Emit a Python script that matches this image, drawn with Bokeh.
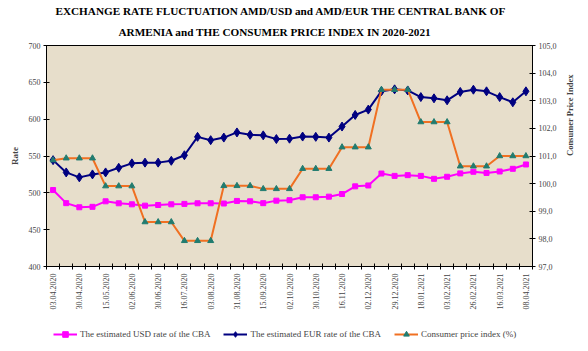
import math
from bokeh.plotting import figure
from bokeh.layouts import column
from bokeh.models import Range1d, LinearAxis, FixedTicker, Legend, LegendItem, Title
from bokeh.embed import file_html
from bokeh.resources import INLINE

# ---- data ----
date_labels = ["03.04.2020", "30.04.2020", "15.05.2020", "02.06.2020", "30.06.2020",
               "16.07.2020", "03.08.2020", "31.08.2020", "15.09.2020", "02.10.2020",
               "30.10.2020", "16.11.2020", "02.12.2020", "29.12.2020", "18.01.2021",
               "03.02.2021", "26.02.2021", "16.03.2021", "08.04.2021"]

usd = [503.8, 486.0, 480.4, 481.0, 488.5, 485.8, 484.4, 482.6, 483.5, 484.4,
       485.0, 485.8, 485.8, 485.5, 489.0, 488.5, 486.0, 489.4, 490.0, 494.0,
       494.0, 494.8, 498.4, 508.8, 510.0, 526.2, 523.0, 524.0, 523.0, 519.0,
       521.8, 526.4, 528.6, 527.0, 529.0, 532.6, 538.5]

eur = [544.4, 527.7, 521.0, 525.0, 527.7, 534.0, 540.0, 541.0, 541.0, 543.5,
       551.0, 576.0, 571.5, 575.0, 582.0, 578.7, 578.0, 573.0, 573.5, 576.4,
       576.0, 575.0, 590.0, 605.7, 613.0, 638.0, 640.5, 639.0, 630.0, 628.3,
       625.6, 637.0, 640.0, 637.8, 630.0, 622.9, 637.8]

cpi = [100.85, 100.92, 100.92, 100.92, 99.91, 99.91, 99.91, 98.61, 98.61, 98.61,
       97.93, 97.93, 97.93, 99.92, 99.92, 99.92, 99.81, 99.81, 99.81, 100.54,
       100.54, 100.54, 101.32, 101.32, 101.32, 103.40, 103.40, 103.40, 102.23, 102.23,
       102.23, 100.63, 100.63, 100.63, 101.00, 101.00, 101.00]

rate_ticks = [400, 450, 500, 550, 600, 650, 700]
cpi_ticks = [97, 98, 99, 100, 101, 102, 103, 104, 105]

title_lines = ["EXCHANGE RATE FLUCTUATION AMD/USD and AMD/EUR THE CENTRAL BANK OF",
               "ARMENIA and THE  CONSUMER PRICE INDEX IN 2020-2021"]

series_names = ["The estimated USD rate of the CBA",
                "The estimated EUR rate of the CBA",
                "Consumer price index (%)"]

x = list(range(len(usd)))
n = len(usd)

SERIF = "Liberation Serif"

p = figure(width=588, height=320, output_backend="svg", toolbar_location=None,
           x_range=Range1d(-0.5, n - 0.5), y_range=Range1d(400, 700),
           min_border_left=46, min_border_right=56, min_border_top=45,
           min_border_bottom=54)
p.extra_y_ranges = {"cpi": Range1d(97, 105)}

p.background_fill_color = "#E7DECB"
p.border_fill_color = "white"
p.outline_line_color = "black"
p.outline_line_width = 1
p.xgrid.grid_line_color = None
p.ygrid.grid_line_color = None

# title: two lines; the added Title sits nearest the frame
p.title.text = title_lines[0]
p.title.align = "left"
p.title.offset = 9
p.title.text_font = SERIF
p.title.text_font_size = "11.2px"
p.title.text_font_style = "bold"
p.title.text_color = "black"
p.title.standoff = 0
try:
    p.title.standoff = -3
except Exception:
    pass
t2 = Title(text=title_lines[1], align="left", offset=72, text_font=SERIF,
           text_font_size="11.2px", text_font_style="bold", text_color="black",
           standoff=16)
p.add_layout(t2, "above")

# x axis
xa = p.xaxis[0]
xa.ticker = FixedTicker(ticks=list(range(0, n, 2)),
                        minor_ticks=[i - 0.5 for i in range(n + 1)])
xa.major_label_overrides = {i * 2: lab for i, lab in enumerate(date_labels)}
xa.major_label_orientation = math.pi / 2
xa.major_tick_in = 0
xa.major_tick_out = 0
xa.minor_tick_in = 3
xa.minor_tick_out = 3
xa.major_label_text_font = SERIF
xa.major_label_text_font_size = "8px"
xa.major_label_standoff = 4
xa.axis_line_color = "black"
xa.minor_tick_line_color = "black"

# left axis
ya = p.yaxis[0]
ya.ticker = FixedTicker(ticks=rate_ticks)
ya.minor_tick_line_color = None
ya.major_tick_in = 3
ya.major_tick_out = 3
ya.major_label_text_font = SERIF
ya.major_label_text_font_size = "8px"
ya.major_label_standoff = 3
ya.axis_label = "Rate"
ya.axis_label_text_font = SERIF
ya.axis_label_text_font_size = "9px"
ya.axis_label_text_font_style = "bold"
ya.axis_label_standoff = 6

# right axis
ra = LinearAxis(y_range_name="cpi", ticker=FixedTicker(ticks=cpi_ticks))
ra.major_label_overrides = {t: f"{t},0" for t in cpi_ticks}
ra.minor_tick_line_color = None
ra.major_tick_in = 3
ra.major_tick_out = 3
ra.major_label_text_font = SERIF
ra.major_label_text_font_size = "8px"
ra.major_label_standoff = 3
ra.axis_label = "Consumer Price Index"
ra.axis_label_text_font = SERIF
ra.axis_label_text_font_size = "8.5px"
ra.axis_label_text_font_style = "bold"
ra.axis_label_standoff = 10
if "axis_label_orientation" in ra.properties():
    ra.axis_label_orientation = math.pi / 2
p.add_layout(ra, "right")

# series
USD_C = "#FF00FF"
EUR_C = "#000080"
CPI_C = "#F07022"
TRI_C = "#217C70"

p.line(x, usd, line_color=USD_C, line_width=2)
p.scatter(x, usd, marker="square", size=5, fill_color=USD_C, line_color=USD_C)

p.line(x, eur, line_color=EUR_C, line_width=2)
p.scatter(x, eur, marker="diamond", size=9, fill_color=EUR_C, line_color=EUR_C)

p.line(x, cpi, line_color=CPI_C, line_width=2, y_range_name="cpi")
p.scatter(x, cpi, marker="triangle", size=6, fill_color=TRI_C, line_color=TRI_C,
          y_range_name="cpi")

# legend strip below the chart (its renderers sit outside the strip's ranges)
q = figure(width=588, height=31, output_backend="svg", toolbar_location=None,
           x_range=Range1d(0, 1), y_range=Range1d(0, 1),
           x_axis_location=None, y_axis_location=None,
           min_border=0, outline_line_color=None)
q.xgrid.grid_line_color = None
q.ygrid.grid_line_color = None
q.background_fill_color = "white"
q.border_fill_color = "white"

off = [5]
lu = q.line(off, off, line_color=USD_C, line_width=2)
mu = q.scatter(off, off, marker="square", size=5, fill_color=USD_C, line_color=USD_C)
le = q.line(off, off, line_color=EUR_C, line_width=2)
me = q.scatter(off, off, marker="diamond", size=9, fill_color=EUR_C, line_color=EUR_C)
lc = q.line(off, off, line_color=CPI_C, line_width=2)
mc = q.scatter(off, off, marker="triangle", size=6, fill_color=TRI_C, line_color=TRI_C)

legend = Legend(items=[
    LegendItem(label=series_names[0], renderers=[lu, mu]),
    LegendItem(label=series_names[1], renderers=[le, me]),
    LegendItem(label=series_names[2], renderers=[lc, mc]),
], orientation="horizontal", location=(7, 10))
legend.label_text_font = SERIF
legend.label_text_font_size = "9px"
legend.glyph_width = 24
legend.glyph_height = 14
legend.label_standoff = 3
legend.spacing = 13
legend.padding = 0
legend.margin = 0
legend.background_fill_alpha = 0
legend.border_line_color = None
q.add_layout(legend)

layout = column(p, q, spacing=0)
open("out.html", "w").write(file_html(layout, INLINE))
